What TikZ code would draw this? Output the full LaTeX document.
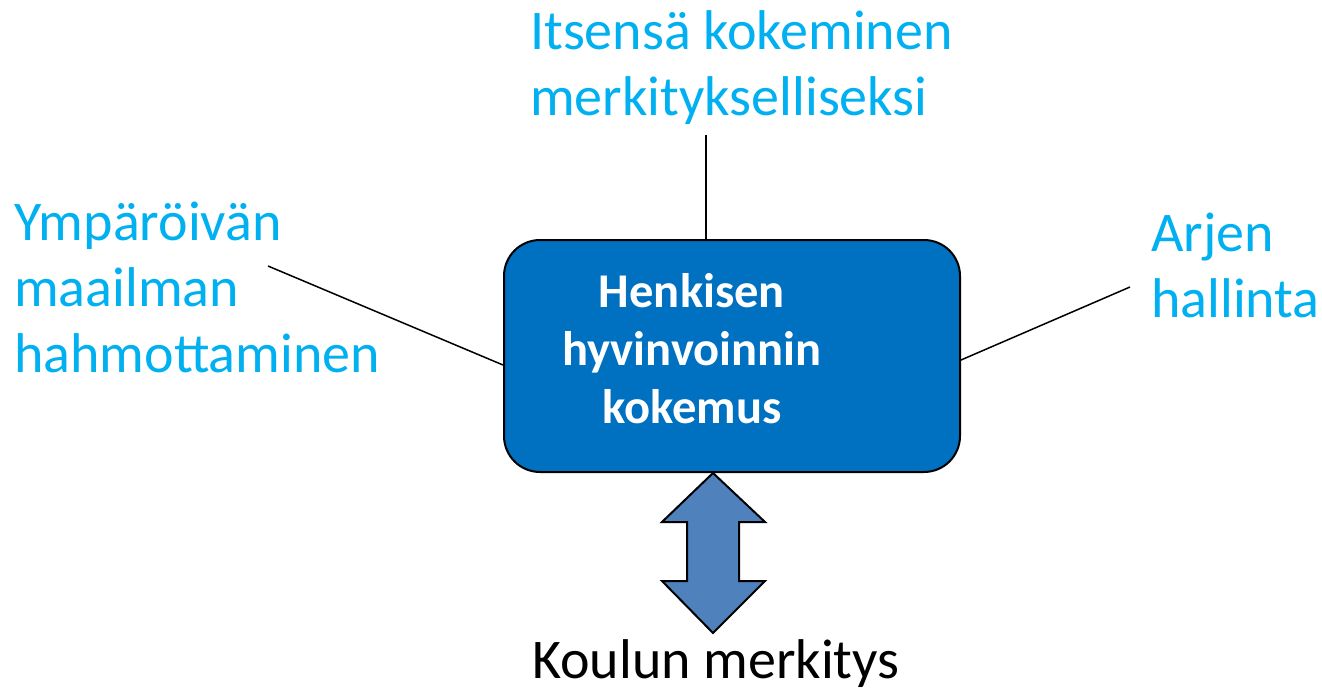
\documentclass[tikz,border=0pt]{standalone}
\usepackage{fontspec}
\setmainfont{Carlito}
\definecolor{lblue}{HTML}{00B0F0}
\definecolor{dblue}{HTML}{0070C0}
\definecolor{ablue}{HTML}{4F81BD}
\begin{document}
\begin{tikzpicture}[x=1pt,y=-1pt,
  sidelabel/.style={inner sep=0pt, anchor=base west, align=left, text=lblue, font=\fontsize{56}{66}\selectfont},
  conn/.style={draw=black, line width=1.5pt},
  core/.style={draw=black, line width=2pt, fill=dblue, rounded corners=36pt, minimum width=456pt, minimum height=232pt, inner sep=0pt},
  coretext/.style={inner sep=0pt, anchor=base, align=center, text=white, font=\fontsize{48.5}{58}\selectfont\bfseries},
  bigarrow/.style={draw=black, line width=2pt, fill=ablue, line join=miter},
  bottomlabel/.style={inner sep=0pt, anchor=base west, text=black, font=\fontsize{56}{66}\selectfont}
]
\useasboundingbox (0,0) rectangle (1322,690);
\fill[white] (0,0) rectangle (1322,690);
\node[core] (box) at (732,356) {};
\node[coretext] (bt) at (692,423) {Henkisen\\hyvinvoinnin\\kokemus};
\node[sidelabel] (top) at (530,116) {Itsensä kokeminen\\merkitykselliseksi};
\node[sidelabel] (left) at (14,372) {Ympäröivän\\maailman\\hahmottaminen};
\node[sidelabel] (right) at (1151,317) {Arjen\\hallinta};
\node[bottomlabel] (bottom) at (532,678) {Koulun merkitys};
\coordinate (tc) at (706,135);
\coordinate (lc) at (268,266);
\coordinate (rc) at (1130,287);
\draw[conn] (tc) -- (tc |- box.north);
\draw[conn] (lc) -- (box.west |- 0,365);
\draw[conn] (rc) -- (box.east |- 0,360);
\coordinate (at) at (713,473);
\draw[bigarrow] (at) -- (765,522) -- (739,522) -- (739,581) -- (765,581) -- (713,633)
  -- (662,581) -- (687,581) -- (687,522) -- (662,522) -- cycle;
\end{tikzpicture}
\end{document}
